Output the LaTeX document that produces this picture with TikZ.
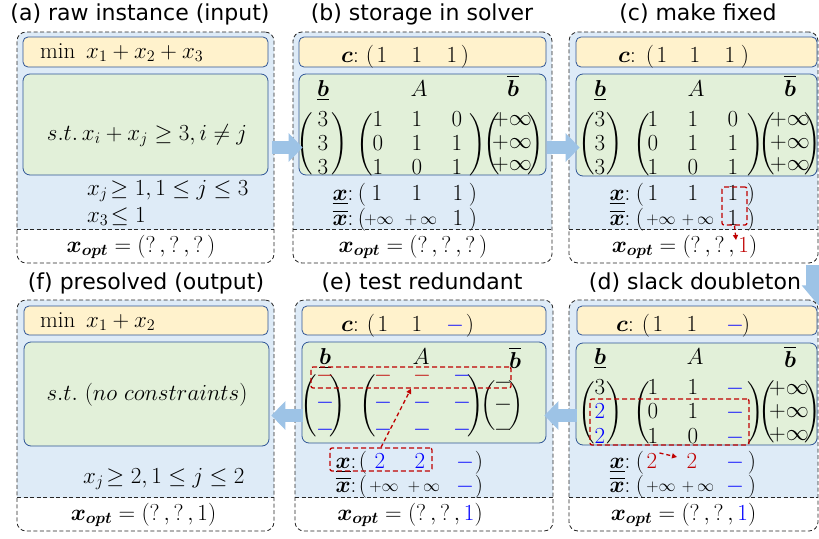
\RequirePackage{fix-cm}
\documentclass[tikz,border=0pt]{standalone}
\usepackage{amsmath}
\usepackage{bm}
\usepackage{fontspec}
\newfontfamily\titlefont{DejaVu Sans}
\usetikzlibrary{arrows.meta}
\definecolor{panelblue}{HTML}{DEEBF7}
\definecolor{orangefill}{HTML}{FFF2CC}
\definecolor{greenfill}{HTML}{E2F0D9}
\definecolor{boxblue}{HTML}{2F5597}
\definecolor{arrowblue}{HTML}{9DC3E6}
\definecolor{darkred}{HTML}{C00000}
\definecolor{entblue}{HTML}{0000FF}
\newcommand\dlL[1]{$\left(\vcenter{\hbox{\rule{0pt}{#1}}}\right.$}
\newcommand\dlR[1]{$\left.\vcenter{\hbox{\rule{0pt}{#1}}}\right)$}
\newcommand\mE[4]{\node[ent] (#1) at (#2,#3) {$#4$};}
\newcommand\sE[4]{\node[sent] (#1) at (#2,#3) {$#4$};}
\tikzset{
  panel/.style={draw=black!85, line width=0.8pt, dash pattern=on 4pt off 2.5pt,
    rounded corners=9pt, inner sep=0pt,
    path picture={
      \fill[panelblue, sharp corners] ([yshift=33.5pt]path picture bounding box.south west) rectangle (path picture bounding box.north east);
      \draw[black!85, line width=0.8pt, dash pattern=on 4pt off 2.5pt, sharp corners] ([yshift=33.5pt]path picture bounding box.south west) -- ([yshift=33.5pt]path picture bounding box.south east);
    }},
  obox/.style={draw=boxblue, line width=0.8pt, fill=orangefill, rounded corners=5pt, inner sep=0pt},
  gbox/.style={draw=boxblue, line width=0.8pt, fill=greenfill, rounded corners=7pt, inner sep=0pt},
  ent/.style={anchor=base, inner sep=0pt, font=\fontsize{23}{27}\selectfont},
  sent/.style={anchor=base, inner sep=0pt, font=\fontsize{17}{20}\selectfont},
  txt/.style={anchor=base west, inner sep=0pt, font=\fontsize{23}{27}\selectfont},
  dl/.style={inner sep=0pt, font=\fontsize{22}{26}\selectfont},
  ttl/.style={anchor=base, inner sep=0pt, font=\titlefont\fontsize{22}{26}\selectfont},
  redbox/.style={draw=darkred, line width=1.3pt, dash pattern=on 5pt off 3pt, rounded corners=2pt, inner sep=0pt},
  redarrow/.style={draw=darkred, line width=1.3pt, dash pattern=on 4pt off 3pt, -{Triangle[length=5pt,width=5pt]}},
  flow/.style={draw=arrowblue, line width=13pt, -{Triangle[length=14pt,width=28pt]}}
}
\begin{document}
\begin{tikzpicture}[x=1pt,y=-1pt]
\fill[white] (0,0) rectangle (819,538);
\useasboundingbox (0,0) rectangle (819,538);

% ---------------- panel (a)
\node[panel, minimum width=257pt, minimum height=231pt] (pa) at (145.5,147.5) {};
\node[obox, minimum width=245pt, minimum height=30pt] (ao) at (145.5,52) {};
\node[gbox, minimum width=245pt, minimum height=101pt] (ag) at (145.5,124.5) {};
\node[ttl] (ta) at (140,20) {(a) raw instance (input)};
\node[txt] (amin) at (40,58) {$\min\ x_1+x_2+x_3$};
\node[ent] (ast) at (147,140) {$s.t.\,x_i+x_j\geq 3, i\neq j$};
\node[txt] (abd1) at (87,195) {$x_j\!\geq 1, 1\leq j\leq 3$};
\node[txt] (abd2) at (87,222) {$x_3\!\leq 1$};
\mE{aopt}{141}{252}{\bm{x}_{\bm{opt}}=(?\,,?\,,?\,)}

% ---------------- panel (b)
\node[panel, minimum width=259pt, minimum height=231pt] (pb) at (422.5,147.5) {};
\node[obox, minimum width=247pt, minimum height=30pt] (bo) at (422.5,52) {};
\node[gbox, minimum width=247pt, minimum height=101pt] (bg) at (422.5,124.5) {};
\node[ttl] (tb) at (422,20) {(b) storage in solver};
\mE{bc}{350}{62}{\bm{c}{:}}
\mE{bcl}{370}{62}{(}\mE{bc1}{382}{62}{1}\mE{bc2}{417}{62}{1}\mE{bc3}{452}{62}{1}\mE{bcr}{465}{62}{)}
\mE{blab}{323}{96}{\underline{\bm{b}}}\mE{bAlab}{419}{96}{A}\mE{bulab}{513}{96}{\overline{\bm{b}}}
\node[dl] (bp1) at (305.5,143.5) {\dlL{60pt}};
\node[dl] (bp2) at (339,143.5) {\dlR{60pt}};
\node[dl] (bp3) at (365,144.5) {\dlL{62pt}};
\node[dl] (bp4) at (477,144.5) {\dlR{62pt}};
\node[dl] (bp5) at (492,144) {\dlL{55pt}};
\node[dl] (bp6) at (535,144) {\dlR{55pt}};
\mE{bl1}{323}{126}{3}\mE{bl2}{323}{150}{3}\mE{bl3}{323}{174}{3}
\mE{ba11}{378}{126}{1}\mE{ba12}{417}{126}{1}\mE{ba13}{457}{126}{0}
\mE{ba21}{378}{150}{0}\mE{ba22}{417}{150}{1}\mE{ba23}{457}{150}{1}
\mE{ba31}{378}{174}{1}\mE{ba32}{417}{174}{0}\mE{ba33}{457}{174}{1}
\mE{bu1}{512}{125}{+\infty}\mE{bu2}{512}{148}{+\infty}\mE{bu3}{512}{170}{+\infty}
\mE{bxl}{343}{200}{\underline{\bm{x}}{:}}\mE{bxlp}{362}{200}{(}\mE{bxl1}{377}{200}{1}\mE{bxl2}{417}{200}{1}\mE{bxl3}{458}{200}{1}\mE{bxlq}{473}{200}{)}
\mE{bxu}{343}{225}{\overline{\bm{x}}{:}}\mE{bxup}{362}{225}{(}\sE{bxu1}{379}{224}{+\infty}\sE{bxu2}{421}{224}{+\,\infty}\mE{bxu3}{458}{225}{1}\mE{bxuq}{473}{225}{)}
\mE{bopt}{413}{252}{\bm{x}_{\bm{opt}}=(?\,,?\,,?\,)}

% ---------------- panel (c)
\node[panel, minimum width=249pt, minimum height=231pt] (pc) at (693.5,147.5) {};
\node[obox, minimum width=241pt, minimum height=30pt] (co) at (696.5,52) {};
\node[gbox, minimum width=241pt, minimum height=102pt] (cg) at (696.5,125) {};
\node[ttl] (tc) at (698,20) {(c) make fixed};
\mE{cc}{627}{62}{\bm{c}{:}}
\mE{ccl}{650}{62}{(}\mE{cc1}{662}{62}{1}\mE{cc2}{695}{62}{1}\mE{cc3}{730}{62}{1}\mE{ccr}{745}{62}{)}
\mE{clab}{600}{96}{\underline{\bm{b}}}\mE{cAlab}{696}{96}{A}\mE{culab}{790}{96}{\overline{\bm{b}}}
\node[dl] (cp1) at (587,143.5) {\dlL{60pt}};
\node[dl] (cp2) at (614,143.5) {\dlR{60pt}};
\node[dl] (cp3) at (642,144.5) {\dlL{62pt}};
\node[dl] (cp4) at (755,144.5) {\dlR{62pt}};
\node[dl] (cp5) at (767,144) {\dlL{55pt}};
\node[dl] (cp6) at (812,144) {\dlR{55pt}};
\mE{cl1}{600}{126}{3}\mE{cl2}{600}{150}{3}\mE{cl3}{600}{174}{3}
\mE{ca11}{653}{126}{1}\mE{ca12}{693}{126}{1}\mE{ca13}{733}{126}{0}
\mE{ca21}{653}{150}{0}\mE{ca22}{693}{150}{1}\mE{ca23}{733}{150}{1}
\mE{ca31}{653}{174}{1}\mE{ca32}{693}{174}{0}\mE{ca33}{733}{174}{1}
\mE{cu1}{790}{125}{+\infty}\mE{cu2}{790}{148}{+\infty}\mE{cu3}{790}{170}{+\infty}
\mE{cxl}{620}{200}{\underline{\bm{x}}{:}}\mE{cxlp}{640}{200}{(}\mE{cxl1}{653}{200}{1}\mE{cxl2}{693}{200}{1}\mE{cxl3}{733}{200}{1}\mE{cxlq}{751}{200}{)}
\mE{cxu}{620}{225}{\overline{\bm{x}}{:}}\mE{cxup}{640}{225}{(}\sE{cxu1}{661}{224}{+\infty}\sE{cxu2}{698}{224}{+\,\infty}\mE{cxu3}{733}{225}{1}\mE{cxuq}{751}{225}{)}
\mE{copt}{684.5}{252}{\bm{x}_{\bm{opt}}=(?\,,?\,,{\color{darkred}1})}
\node[redbox, minimum width=25pt, minimum height=38pt] (cfix) at (734.5,206) {};
\coordinate (cfixend) at (736,240);
\draw[redarrow] (cfix.south) -- (cfixend);

% ---------------- panel (d)
\node[panel, minimum width=249pt, minimum height=231pt] (pd) at (693.5,415.5) {};
\node[obox, minimum width=240pt, minimum height=29pt] (dob) at (697,320.5) {};
\node[gbox, minimum width=241pt, minimum height=102pt] (dg) at (696.5,394) {};
\node[ttl] (td) at (695,289) {(d) slack doubleton};
\mE{dc}{625}{331}{\bm{c}{:}}
\mE{dcl}{646}{331}{(}\mE{dc1}{658}{331}{1}\mE{dc2}{692}{331}{1}\mE{dc3}{735}{331}{\color{entblue}-}\mE{dcr}{746}{331}{)}
\mE{dlab}{600}{364}{\underline{\bm{b}}}\mE{dAlab}{695}{364}{A}\mE{dulab}{790}{367}{\overline{\bm{b}}}
\node[dl] (dp1) at (587,412.5) {\dlL{62pt}};
\node[dl] (dp2) at (614,412.5) {\dlR{62pt}};
\node[dl] (dp3) at (642,412.5) {\dlL{62pt}};
\node[dl] (dp4) at (755,412.5) {\dlR{62pt}};
\node[dl] (dp5) at (767,412) {\dlL{55pt}};
\node[dl] (dp6) at (812,412) {\dlR{55pt}};
\mE{dl1}{600}{394}{3}\mE{dl2}{600}{418}{\color{entblue}2}\mE{dl3}{600}{443}{\color{entblue}2}
\mE{da11}{653}{394}{1}\mE{da12}{693}{394}{1}\mE{da13}{735}{394}{\color{entblue}-}
\mE{da21}{653}{418}{0}\mE{da22}{693}{418}{1}\mE{da23}{735}{418}{\color{entblue}-}
\mE{da31}{653}{443}{1}\mE{da32}{693}{443}{0}\mE{da33}{735}{443}{\color{entblue}-}
\mE{du1}{789}{394}{+\infty}\mE{du2}{789}{417}{+\infty}\mE{du3}{789}{440}{+\infty}
\node[redbox, minimum width=159pt, minimum height=46pt] (dred) at (669.5,422) {};
\mE{dxl}{620}{468}{\underline{\bm{x}}{:}}\mE{dxlp}{640}{468}{(}\mE{dxl1}{652}{468}{\color{darkred}2}\mE{dxl2}{692}{468}{\color{darkred}2}\mE{dxl3}{735}{468}{\color{entblue}-}\mE{dxlq}{752}{468}{)}
\mE{dxu}{620}{492}{\overline{\bm{x}}{:}}\mE{dxup}{640}{492}{(}\sE{dxu1}{661}{491}{+\infty}\sE{dxu2}{698}{491}{+\,\infty}\mE{dxu3}{735}{492}{\color{entblue}-}\mE{dxuq}{752}{492}{)}
\coordinate (dxarr) at (677,457);
\draw[redarrow] ([xshift=2pt]dxl1.north east) -- (dxarr);
\mE{dopt}{683.5}{520}{\bm{x}_{\bm{opt}}=(?\,,?\,,{\color{entblue}1})}

% ---------------- panel (e)
\node[panel, minimum width=258pt, minimum height=231pt] (pe) at (424,415.5) {};
\node[obox, minimum width=244pt, minimum height=29pt] (eo) at (424,320.5) {};
\node[gbox, minimum width=244pt, minimum height=101pt] (eg) at (424,392.5) {};
\node[ttl] (te) at (422,289) {(e) test redundant};
\mE{ec}{350}{331}{\bm{c}{:}}
\mE{ecl}{371}{331}{(}\mE{ec1}{383}{331}{1}\mE{ec2}{417}{331}{1}\mE{ec3}{455}{331}{\color{entblue}-}\mE{ecr}{470}{331}{)}
\mE{elab}{325}{364}{\underline{\bm{b}}}\mE{eAlab}{421}{364}{A}\mE{eulab}{515}{368}{\overline{\bm{b}}}
\node[dl] (ep1) at (309,405.5) {\dlL{57pt}};
\node[dl] (ep2) at (337.5,405.5) {\dlR{57pt}};
\node[dl] (ep3) at (368,405.5) {\dlL{57pt}};
\node[dl] (ep4) at (475,405.5) {\dlR{57pt}};
\node[dl] (ep5) at (489,406) {\dlL{49pt}};
\node[dl] (ep6) at (515.5,406) {\dlR{49pt}};
\mE{el1}{325}{381}{\color{darkred}-}\mE{el2}{325}{408}{\color{entblue}-}\mE{el3}{325}{435}{\color{entblue}-}
\mE{ea11}{383}{381}{\color{darkred}-}\mE{ea12}{422}{381}{\color{darkred}-}\mE{ea13}{462}{381}{\color{entblue}-}
\mE{ea21}{383}{408}{\color{entblue}-}\mE{ea22}{422}{408}{\color{entblue}-}\mE{ea23}{462}{408}{\color{entblue}-}
\mE{ea31}{383}{435}{\color{entblue}-}\mE{ea32}{422}{435}{\color{entblue}-}\mE{ea33}{462}{435}{\color{entblue}-}
\mE{eu1}{503}{388}{-}\mE{eu2}{503}{410}{-}\mE{eu3}{503}{435}{-}
\node[redbox, minimum width=200pt, minimum height=21pt] (ered1) at (411,377.5) {};
\mE{exl}{346}{468}{\underline{\bm{x}}{:}}\mE{exlp}{363}{468}{(}\mE{exl1}{380}{468}{\color{entblue}2}\mE{exl2}{420}{468}{\color{entblue}2}\mE{exl3}{465}{468}{\color{entblue}-}\mE{exlq}{479}{468}{)}
\mE{exu}{346}{492}{\overline{\bm{x}}{:}}\mE{exup}{363}{492}{(}\sE{exu1}{384}{491}{+\infty}\sE{exu2}{424}{491}{+\,\infty}\mE{exu3}{465}{492}{\color{entblue}-}\mE{exuq}{479}{492}{)}
\node[redbox, minimum width=102pt, minimum height=23pt] (ered2) at (381,459.5) {};
\draw[redarrow] (ered2.north) -- (ered1.south);
\mE{eopt}{410}{520}{\bm{x}_{\bm{opt}}=(?\,,?\,,{\color{entblue}1})}

% ---------------- panel (f)
\node[panel, minimum width=257pt, minimum height=231pt] (pf) at (145.5,415.5) {};
\node[obox, minimum width=244pt, minimum height=29pt] (fo) at (146,320.5) {};
\node[gbox, minimum width=245pt, minimum height=104pt] (fg) at (146.5,394) {};
\node[ttl] (tf) at (146,289) {(f) presolved (output)};
\node[txt] (fmin) at (40,327) {$\min\ x_1+x_2$};
\node[ent] (fst) at (147,400) {$s.t.\ (no\ constraints)$};
\node[txt] (fbd) at (83,483) {$x_j\!\geq 2, 1\leq j\leq 2$};
\mE{fopt}{143.5}{520}{\bm{x}_{\bm{opt}}=(?\,,?\,,1)}

% ---------------- flow arrows
\draw[flow] ([xshift=-2pt]pa.east) -- ([xshift=10pt]pb.west);
\draw[flow] ([xshift=-5pt]pb.east) -- ([xshift=11pt]pc.west);
\draw[flow, line width=24pt, -{Triangle[length=20pt,width=32pt]}] ([yshift=-2pt]pc.south east) -- ([yshift=-42pt]pc.south east);
\draw[flow] ([xshift=8pt]pd.west) -- ([xshift=-9pt]pe.east);
\draw[flow] ([xshift=8pt]pe.west) -- ([xshift=-3pt]pf.east);
\end{tikzpicture}
\end{document}
